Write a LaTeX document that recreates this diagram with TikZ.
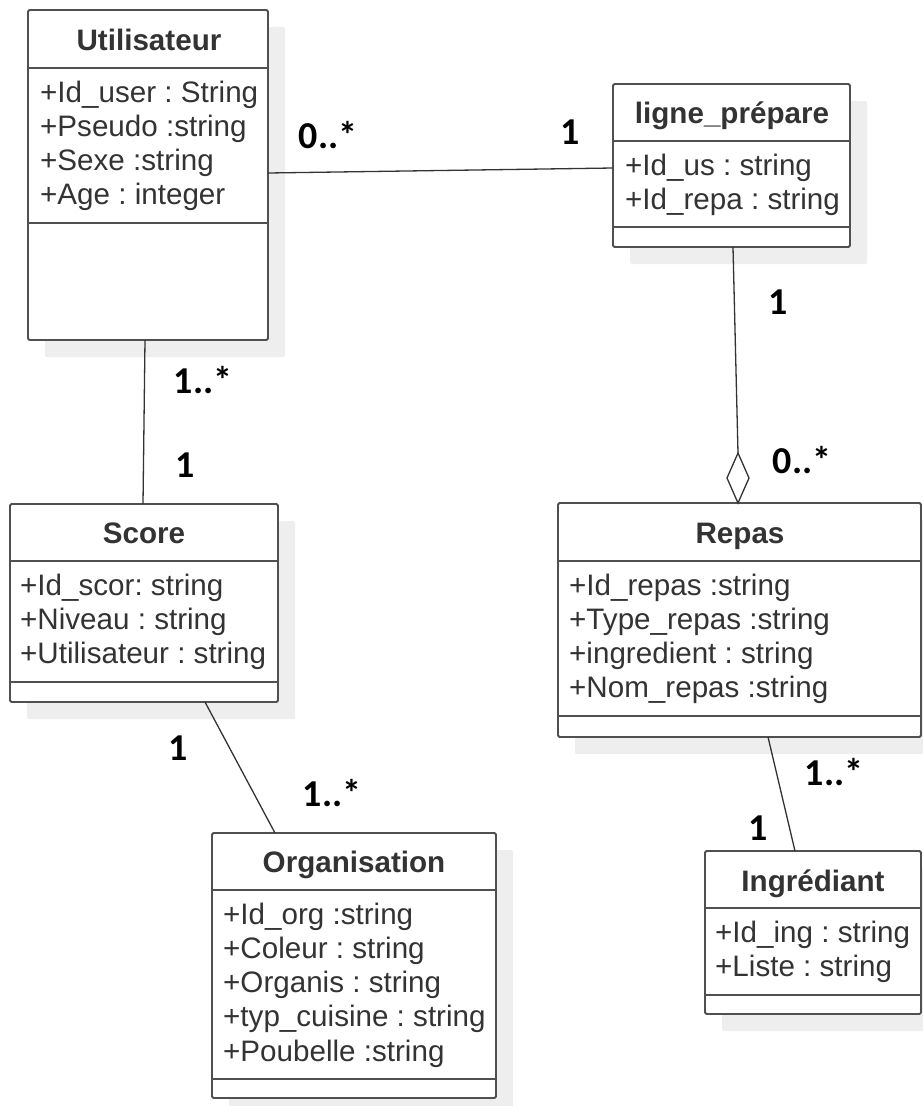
\documentclass[tikz,border=0pt]{standalone}
\usepackage{fontspec}
\setmainfont{Liberation Sans}
\newfontfamily\lblfont{Carlito}
\usetikzlibrary{shadows,calc}
\frenchspacing
\definecolor{linec}{HTML}{505050}
\definecolor{textc}{HTML}{333333}
\definecolor{shadc}{HTML}{EEEEEE}
\tikzset{
 classbox/.style={draw=linec, line width=1.8pt, fill=white, rounded corners=1.5pt, inner sep=0pt, outer sep=0pt,
   drop shadow={shadow xshift=17pt, shadow yshift=-17pt, fill=shadc, opacity=1}},
 sepline/.style={draw=linec, line width=1.8pt},
 title/.style={font=\frenchspacing\fontsize{29.6}{34}\selectfont\bfseries, text=textc, anchor=base, inner sep=0pt},
 attr/.style={font=\frenchspacing\fontsize{29.6}{34}\selectfont, text=textc, anchor=base west, inner sep=0pt},
 mult/.style={font=\lblfont\bfseries\fontsize{38}{40}\selectfont, text=black, inner sep=0pt},
 assoc/.style={draw=textc, line width=1.3pt},
}
\begin{document}
\begin{tikzpicture}[x=1pt,y=-1pt]
\useasboundingbox (0,0) rectangle (922,1106);
% classes
\node[classbox, minimum width=240pt, minimum height=330pt] (util) at (148,175) {};
\node[classbox, minimum width=237pt, minimum height=163pt] (lig) at (731.5,165.5) {};
\node[classbox, minimum width=268pt, minimum height=198pt] (score) at (144,603) {};
\node[classbox, minimum width=363pt, minimum height=234pt] (repas) at (739.5,620) {};
\node[classbox, minimum width=284pt, minimum height=265pt] (org) at (354,965.5) {};
\node[classbox, minimum width=216pt, minimum height=163pt] (ingr) at (813,932.5) {};
% separators
\draw[sepline] (util.west |- 0,68) -- (util.east |- 0,68);
\draw[sepline] (util.west |- 0,223) -- (util.east |- 0,223);
\draw[sepline] (lig.west |- 0,141) -- (lig.east |- 0,141);
\draw[sepline] (lig.west |- 0,227) -- (lig.east |- 0,227);
\draw[sepline] (score.west |- 0,561) -- (score.east |- 0,561);
\draw[sepline] (score.west |- 0,682) -- (score.east |- 0,682);
\draw[sepline] (repas.west |- 0,561) -- (repas.east |- 0,561);
\draw[sepline] (repas.west |- 0,716) -- (repas.east |- 0,716);
\draw[sepline] (org.west |- 0,890) -- (org.east |- 0,890);
\draw[sepline] (org.west |- 0,1079) -- (org.east |- 0,1079);
\draw[sepline] (ingr.west |- 0,908) -- (ingr.east |- 0,908);
\draw[sepline] (ingr.west |- 0,995) -- (ingr.east |- 0,995);
% titles
\node[title] (tutil) at (149,50) {Utilisateur};
\node[title] (tlig) at (732,123) {ligne\_prépare};
\node[title] (tscore) at (144,543) {Score};
\node[title] (trepas) at (740,543) {Repas};
\node[title] (torg) at (354,872) {Organisation};
\node[title] (tingr) at (813,891) {Ingrédiant};
% attributes
\node[attr] (u1) at (40,102) {+Id\_user : String};
\node[attr] (u2) at (40,136.3) {+Pseudo :string};
\node[attr] (u3) at (40,170.6) {+Sexe :string};
\node[attr] (u4) at (40,204.9) {+Age : integer};
\node[attr] (l1) at (625,175) {+Id\_us : string};
\node[attr] (l2) at (625,209.3) {+Id\_repa : string};
\node[attr] (s1) at (20,595) {+Id\_scor: string};
\node[attr] (s2) at (20,629.3) {+Niveau : string};
\node[attr] (s3) at (20,663.6) {+Utilisateur : string};
\node[attr] (r1) at (569,595) {+Id\_repas :string};
\node[attr] (r2) at (569,629.3) {+Type\_repas :string};
\node[attr] (r3) at (569,663.6) {+ingredient : string};
\node[attr] (r4) at (569,697.9) {+Nom\_repas :string};
\node[attr] (o1) at (223,924) {+Id\_org :string};
\node[attr] (o2) at (223,958.3) {+Coleur : string};
\node[attr] (o3) at (223,992.6) {+Organis : string};
\node[attr] (o4) at (223,1026.9) {+typ\_cuisine : string};
\node[attr] (o5) at (223,1061.2) {+Poubelle :string};
\node[attr] (i1) at (715,942) {+Id\_ing : string};
\node[attr] (i2) at (715,976.3) {+Liste : string};
% connectors
\draw[assoc] ([yshift=2pt]util.east) -- ([yshift=-2.5pt]lig.west);
\draw[assoc] ([xshift=-3pt]util.south) -- ([xshift=-1pt]score.north);
\coordinate (dbot) at ([xshift=-1.5pt]repas.north);
\coordinate (dtop) at ($(dbot)+(0,-50)$);
\draw[assoc] ([xshift=1.5pt]lig.south) -- (dtop);
\draw[assoc, fill=white] (dbot) -- ++(11,-25) -- (dtop) -- ++(-11,25) -- cycle;
\draw[assoc] ([xshift=61pt]score.south) -- ([xshift=-79pt]org.north);
\draw[assoc] ([xshift=28.5pt]repas.south) -- ([xshift=-18pt]ingr.north);
% multiplicities
\node[mult] (m1) at (328,135) {0..*};
\node[mult] (m2) at (570,132) {1};
\node[mult] (m3) at (203,380) {1..*};
\node[mult] (m4) at (185,465) {1};
\node[mult] (m5) at (778,302) {1};
\node[mult] (m6) at (802,460) {0..*};
\node[mult] (m7) at (178,748) {1};
\node[mult] (m8) at (332,793) {1..*};
\node[mult] (m9) at (834,772) {1..*};
\node[mult] (m10) at (758,828) {1};
\end{tikzpicture}
\end{document}
